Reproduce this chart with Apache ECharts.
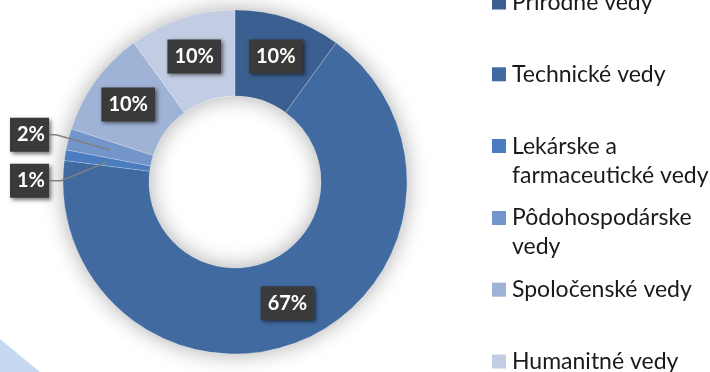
<!DOCTYPE html>
<html>
<head>
<meta charset="utf-8">
<script src="https://cdn.jsdelivr.net/npm/echarts@6/dist/echarts.min.js"></script>
<style>
  html, body { margin: 0; padding: 0; background: #ffffff; }
  #chart { width: 710px; height: 372px; }
</style>
</head>
<body>
<div id="chart"></div>
<script>
// Fields of science and their shares (percent)
const categories = [
  'Prírodné vedy',
  'Technické vedy',
  'Lekárske a farmaceutické vedy',
  'Pôdohospodárske vedy',
  'Spoločenské vedy',
  'Humanitné vedy'
];
const shares = [10, 67, 1, 2, 10, 10];
const legendLabels = [
  'Prírodné vedy',
  'Technické vedy',
  'Lekárske a\nfarmaceutické vedy',
  'Pôdohospodárske\nvedy',
  'Spoločenské vedy',
  'Humanitné vedy'
];
const colors = ['#3a5f90', '#416ba0', '#4a7dc0', '#7495c9', '#9fb3d6', '#c2cde3'];
// slices whose labels sit outside the ring with a leader line
const outsideLabels = [2, 3];

const CX = 235, CY = 182, R0 = 86, R1 = 172;
const FONT = 'Lato';
const LABEL_FONT = 20, LABEL_PAD = 7, OUT_TEXT_W = 25;
const LABEL_LEFT = 10, LABEL_GAP = 12;
const OUT_BOX_W = OUT_TEXT_W + 2 * LABEL_PAD;

// mid angle of each slice, clockwise from 12 o'clock (radians)
const total = shares.reduce((a, b) => a + b, 0);
const midAngles = [];
let acc = 0;
shares.forEach(v => { midAngles.push((acc + v / 2) / total * 2 * Math.PI); acc += v; });
const polar = (theta, r) => [CX + r * Math.sin(theta), CY - r * Math.cos(theta)];

// vertical centres of the outside labels: start from the slice direction,
// then push each one down so the boxes keep a small gap
function outsideLabelY(labelHeight) {
  const natural = i => polar(midAngles[i], R1 + 18)[1];
  const order = outsideLabels.slice().sort((a, b) => natural(a) - natural(b));
  const ys = {};
  let prev = -Infinity;
  order.forEach(i => {
    const y = Math.max(natural(i), prev + labelHeight + LABEL_GAP);
    ys[i] = y;
    prev = y;
  });
  return ys;
}

const chart = echarts.init(document.getElementById('chart'), null, { renderer: 'canvas' });

const pieData = categories.map((name, i) => {
  const item = { name: name, value: shares[i], itemStyle: { color: colors[i] } };
  if (outsideLabels.includes(i)) {
    item.label = { position: 'outside', width: OUT_TEXT_W, overflow: 'none', align: 'center' };
  }
  return item;
});

// one legend block per entry, spaced evenly down the right side
const legendStep = 71.8, legendFirst = 2.5, lineH = 29;
const legends = categories.map((name, i) => {
  const twoLines = legendLabels[i].indexOf('\n') >= 0;
  return {
    data: [name],
    left: 492,
    top: legendFirst + i * legendStep - lineH / 2,
    padding: 0,
    orient: 'vertical',
    selectedMode: false,
    itemWidth: 14,
    itemHeight: twoLines ? 43 : 14,
    icon: twoLines ? 'path://M0,0H14V14H0Z M0,42.9H0.1V43H0Z' : 'rect',
    itemStyle: { borderWidth: 0 },
    formatter: () => legendLabels[i],
    textStyle: { fontFamily: FONT, fontSize: 23, color: '#1a1a1a', lineHeight: lineH, padding: [0, 0, 0, 1] }
  };
});

function buildOption(labelHeight) {
  const ys = outsideLabelY(labelHeight);
  // leader lines from the middle of each small slice to its label box
  const leaders = outsideLabels.map(i => {
    const start = polar(midAngles[i], (R0 + R1) / 2);
    const right = LABEL_LEFT + OUT_BOX_W;
    const bendX = right + (i === outsideLabels[0] ? 12 : 7);
    return {
      type: 'polyline',
      z: 50,
      silent: true,
      shape: { points: [start, [bendX, ys[i]], [right, ys[i]]] },
      style: { stroke: '#808080', lineWidth: 1.5, fill: null }
    };
  });
  return {
    animation: false,
    backgroundColor: '#ffffff',
    graphic: [{
      type: 'polygon',
      z: -10,
      silent: true,
      shape: { points: [[0, 339], [40, 372], [0, 372]] },
      style: { fill: '#c6d9f1' }
    }].concat(leaders),
    legend: legends,
    series: [
      {
        // soft shadow under the ring
        type: 'pie',
        center: [CX, CY],
        radius: [R0, R1],
        silent: true,
        z: 1,
        label: { show: false },
        labelLine: { show: false },
        itemStyle: { color: '#ffffff', shadowBlur: 22, shadowColor: 'rgba(0,0,0,0.33)' },
        data: [{ value: 1, name: '' }]
      },
      {
        type: 'pie',
        center: [CX, CY],
        radius: [R0, R1],
        startAngle: 90,
        clockwise: true,
        z: 2,
        itemStyle: { borderColor: 'rgba(255,255,255,0.4)', borderWidth: 0.5 },
        label: {
          show: true,
          position: 'inside',
          formatter: '{d}%',
          fontFamily: FONT,
          fontWeight: 'bold',
          fontSize: LABEL_FONT,
          color: '#ffffff',
          backgroundColor: '#3a3a3a',
          padding: LABEL_PAD,
          shadowBlur: 4,
          shadowColor: 'rgba(0,0,0,0.55)',
          shadowOffsetX: 2,
          shadowOffsetY: 2
        },
        labelLine: { show: false },
        labelLayout: function (p) {
          if (!outsideLabels.includes(p.dataIndex)) return {};
          const h = p.labelRect.height;
          return {
            x: LABEL_LEFT,
            y: ys[p.dataIndex] - h / 2,
            align: 'left',
            verticalAlign: 'top'
          };
        },
        data: pieData
      }
    ]
  };
}

// label box height: one text line plus padding
const probe = echarts.format.getTextRect
  ? echarts.format.getTextRect('2%', 'bold ' + LABEL_FONT + 'px ' + FONT).height
  : LABEL_FONT;
chart.setOption(buildOption(probe + 2 * LABEL_PAD));
</script>
</body>
</html>
